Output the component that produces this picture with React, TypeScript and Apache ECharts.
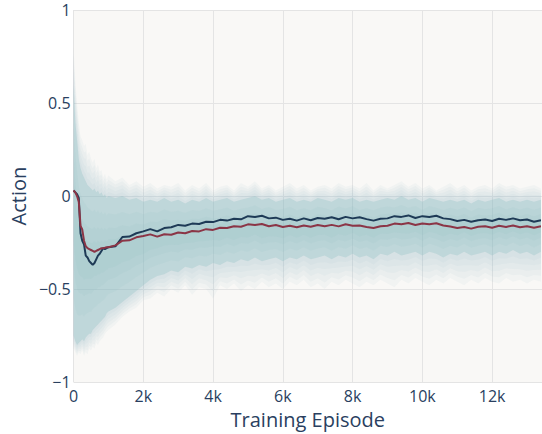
import React, { useEffect, useRef } from "react";
import * as echarts from "echarts";

// Episode grid shared by all series (finer during the early transient)
const episodes = [
  0, 50, 100, 150, 200, 250, 300, 350, 400, 450, 500, 550, 600, 650, 700, 750, 800, 850, 900, 950, 1000,
  1200, 1400, 1600, 1800, 2000, 2200, 2400, 2600, 2800, 3000, 3200, 3400, 3600, 3800, 4000,
  4200, 4400, 4600, 4800, 5000, 5200, 5400, 5600, 5800, 6000, 6200, 6400, 6600, 6800, 7000,
  7200, 7400, 7600, 7800, 8000, 8200, 8400, 8600, 8800, 9000, 9200, 9400, 9600, 9800, 10000,
  10200, 10400, 10600, 10800, 11000, 11200, 11400, 11600, 11800, 12000, 12200, 12400, 12600, 12800, 13000,
  13200, 13400,
];

// Mean action, first policy
const meanA = [
  0.03, 0.02, 0.01, -0.01, -0.2, -0.24, -0.26, -0.32, -0.33, -0.35, -0.36, -0.37, -0.36, -0.34, -0.32, -0.31, -0.295, -0.28, -0.285, -0.28, -0.275,
  -0.27, -0.22, -0.218, -0.2, -0.19, -0.178, -0.19, -0.172, -0.168, -0.155, -0.16, -0.148, -0.15, -0.138, -0.14,
  -0.128, -0.132, -0.122, -0.125, -0.108, -0.112, -0.106, -0.12, -0.116, -0.128, -0.122, -0.132, -0.12, -0.13, -0.118,
  -0.122, -0.114, -0.125, -0.112, -0.12, -0.114, -0.124, -0.132, -0.122, -0.12, -0.108, -0.112, -0.104, -0.118, -0.108,
  -0.112, -0.106, -0.12, -0.124, -0.134, -0.128, -0.138, -0.13, -0.126, -0.134, -0.122, -0.128, -0.12, -0.13, -0.126,
  -0.138, -0.13,
];

// Mean action, second policy
const meanB = [
  0.03, 0.02, 0.0, -0.03, -0.16, -0.18, -0.24, -0.27, -0.28, -0.285, -0.29, -0.295, -0.3, -0.295, -0.29, -0.285, -0.28, -0.28, -0.278, -0.275, -0.275,
  -0.265, -0.24, -0.238, -0.222, -0.215, -0.206, -0.218, -0.205, -0.208, -0.196, -0.2, -0.188, -0.19, -0.178, -0.182,
  -0.17, -0.172, -0.162, -0.165, -0.152, -0.156, -0.15, -0.162, -0.156, -0.166, -0.16, -0.168, -0.158, -0.165, -0.156,
  -0.162, -0.155, -0.163, -0.152, -0.16, -0.158, -0.166, -0.172, -0.162, -0.16, -0.148, -0.152, -0.145, -0.156, -0.148,
  -0.152, -0.146, -0.158, -0.164, -0.172, -0.166, -0.175, -0.165, -0.162, -0.17, -0.16, -0.166, -0.158, -0.168, -0.162,
  -0.17, -0.162,
];

// Outer spread of sampled actions
const outerUpper = [
  0.8, 0.62, 0.5, 0.4, 0.32, 0.3, 0.27, 0.28, 0.22, 0.24, 0.2, 0.18, 0.2, 0.15, 0.17, 0.13, 0.14, 0.1, 0.12, 0.09, 0.11,
  0.08, 0.1, 0.06, 0.08, 0.05, 0.07, 0.04, 0.06, 0.05, 0.07, 0.03, 0.06, 0.04, 0.07, 0.03,
  0.05, 0.06, 0.03, 0.07, 0.05, 0.08, 0.04, 0.06, 0.03, 0.05, 0.07, 0.04, 0.06, 0.03, 0.05,
  0.06, 0.04, 0.07, 0.05, 0.06, 0.04, 0.07, 0.03, 0.06, 0.04, 0.06, 0.08, 0.05, 0.07, 0.04,
  0.06, 0.03, 0.05, 0.07, 0.04, 0.06, 0.03, 0.05, 0.06, 0.04, 0.07, 0.05, 0.06, 0.04, 0.05,
  0.06, 0.04,
];
const outerLower = [
  -0.82, -0.84, -0.86, -0.84, -0.85, -0.83, -0.86, -0.84, -0.85, -0.82, -0.83, -0.81, -0.82, -0.79, -0.8, -0.78, -0.77, -0.76, -0.74, -0.73, -0.72,
  -0.69, -0.65, -0.62, -0.6, -0.56, -0.55, -0.52, -0.54, -0.5, -0.52, -0.48, -0.53, -0.49, -0.5, -0.55,
  -0.48, -0.5, -0.47, -0.51, -0.48, -0.5, -0.46, -0.49, -0.47, -0.5, -0.46, -0.48, -0.45, -0.49, -0.47,
  -0.5, -0.46, -0.48, -0.45, -0.47, -0.49, -0.46, -0.48, -0.45, -0.47, -0.49, -0.45, -0.47, -0.44, -0.46,
  -0.48, -0.45, -0.47, -0.44, -0.46, -0.48, -0.45, -0.47, -0.44, -0.46, -0.47, -0.44, -0.46, -0.45, -0.47,
  -0.45, -0.46,
];

// Dense core of the spread
const coreUpper = [
  0.6, 0.4, 0.3, 0.2, 0.15, 0.12, 0.1, 0.08, 0.06, 0.05, 0.04, 0.03, 0.04, 0.02, 0.03, 0.01, 0.02, 0.0, 0.01, -0.01, 0.0,
  -0.01, 0.0, -0.02, -0.01, -0.03, -0.02, -0.03, -0.01, -0.03, -0.02, -0.04, -0.02, -0.03, -0.01, -0.03,
  -0.02, -0.01, -0.03, -0.02, -0.01, 0.0, -0.02, -0.01, -0.03, -0.02, -0.01, -0.03, -0.02, -0.03, -0.01,
  -0.02, -0.03, -0.01, -0.02, -0.01, -0.03, -0.02, -0.03, -0.02, -0.01, -0.02, 0.0, -0.02, -0.01, -0.03,
  -0.01, -0.02, -0.03, -0.02, -0.03, -0.02, -0.04, -0.02, -0.03, -0.02, -0.01, -0.03, -0.02, -0.03, -0.02,
  -0.03, -0.02,
];
const coreLower = [
  -0.75, -0.78, -0.8, -0.79, -0.78, -0.77, -0.78, -0.76, -0.75, -0.74, -0.74, -0.72, -0.71, -0.7, -0.69, -0.68, -0.67, -0.66, -0.65, -0.63, -0.62,
  -0.6, -0.57, -0.54, -0.51, -0.48, -0.45, -0.43, -0.42, -0.4, -0.41, -0.38, -0.39, -0.37, -0.38, -0.36,
  -0.37, -0.35, -0.36, -0.34, -0.35, -0.33, -0.35, -0.34, -0.33, -0.35, -0.33, -0.34, -0.32, -0.34, -0.33,
  -0.32, -0.34, -0.32, -0.33, -0.31, -0.33, -0.32, -0.34, -0.31, -0.32, -0.3, -0.32, -0.31, -0.3, -0.32,
  -0.3, -0.31, -0.33, -0.31, -0.32, -0.3, -0.32, -0.31, -0.3, -0.32, -0.3, -0.31, -0.29, -0.31, -0.3,
  -0.32, -0.3,
];

const yTicks: Record<string, string> = { "-1": "\u22121", "-0.5": "\u22120.5", "0": "0", "0.5": "0.5", "1": "1" };

const FONT = "'Open Sans', 'Noto Sans', sans-serif";
const INK = "#2a3f5f";
const TEAL = "136,188,193";

// Polygon between two envelopes, each blended a fraction of the way toward another pair
function ribbon(api: any, upA: number[], upB: number[], loA: number[], loB: number[], t: number, fill: string) {
  const pts: number[][] = [];
  for (let i = 0; i < episodes.length; i++) {
    pts.push(api.coord([episodes[i], upA[i] + (upB[i] - upA[i]) * t]));
  }
  for (let i = episodes.length - 1; i >= 0; i--) {
    pts.push(api.coord([episodes[i], loA[i] + (loB[i] - loA[i]) * t]));
  }
  return { type: "polygon", shape: { points: pts }, style: { fill } };
}

// Soft-edged spread: a solid core plus feathered layers toward the outer envelope
const spreadSeries = {
  type: "custom",
  silent: true,
  clip: true,
  z: 1,
  data: [[0, 0]],
  renderItem: (_params: any, api: any) => {
    const children: any[] = [];
    const fade = [1.0, 0.8, 0.6, 0.4, 0.2];
    for (const t of fade) {
      children.push(ribbon(api, coreUpper, outerUpper, coreLower, outerLower, t, `rgba(${TEAL},0.07)`));
    }
    const mid = coreUpper.map((u, i) => (u + coreLower[i]) / 2);
    children.push(ribbon(api, coreUpper, mid, coreLower, mid, 0, `rgba(${TEAL},0.3)`));
    for (const s of [0.3, 0.55, 0.75]) {
      children.push(ribbon(api, coreUpper, mid, coreLower, mid, s, `rgba(${TEAL},0.09)`));
    }
    return { type: "group", children };
  },
};

export default function App() {
  const ref = useRef<HTMLDivElement>(null);

  useEffect(() => {
    if (!ref.current) return;
    const chart = echarts.init(ref.current, undefined, { renderer: "svg" });
    chart.setOption({
      animation: false,
      backgroundColor: "#ffffff",
      grid: {
        left: 72,
        right: 0,
        top: 10,
        bottom: 51,
        show: true,
        backgroundColor: "#f9f8f6",
        borderWidth: 0,
      },
      xAxis: {
        type: "value",
        min: 0,
        max: 13430,
        interval: 2000,
        axisLine: { show: false },
        axisTick: { show: false },
        splitLine: { show: true, lineStyle: { color: "#e4e4e4", width: 1 } },
        axisLabel: {
          color: INK,
          fontFamily: FONT,
          fontSize: 16,
          margin: 6,
          showMaxLabel: false,
          formatter: (v: number) => (v % 2000 !== 0 ? "" : v === 0 ? "0" : `${v / 1000}k`),
        },
        name: "Training Episode",
        nameLocation: "middle",
        nameGap: 25,
        nameTextStyle: { color: INK, fontFamily: FONT, fontSize: 20 },
      },
      yAxis: {
        type: "value",
        min: -1,
        max: 1,
        interval: 0.5,
        axisLine: { show: false },
        axisTick: { show: false },
        splitLine: { show: true, lineStyle: { color: "#e4e4e4", width: 1 } },
        axisLabel: {
          color: INK,
          fontFamily: FONT,
          fontSize: 16,
          margin: 3,
          formatter: (v: number) => yTicks[String(v)] ?? String(v),
        },
        name: "Action",
        nameLocation: "middle",
        nameGap: 45,
        nameTextStyle: { color: INK, fontFamily: FONT, fontSize: 20 },
      },
      series: [
        spreadSeries,
        {
          type: "line",
          z: 3,
          showSymbol: false,
          silent: true,
          data: episodes.map((e, i) => [e, meanA[i]]),
          lineStyle: { color: "#1e3a56", width: 2 },
        },
        {
          type: "line",
          z: 4,
          showSymbol: false,
          silent: true,
          data: episodes.map((e, i) => [e, meanB[i]]),
          lineStyle: { color: "#8b3546", width: 2 },
        },
      ],
    });
    return () => chart.dispose();
  }, []);

  return (
    <div
      ref={ref}
      style={{ position: "fixed", left: 0, top: 0, width: 542, height: 434 }}
    />
  );
}
